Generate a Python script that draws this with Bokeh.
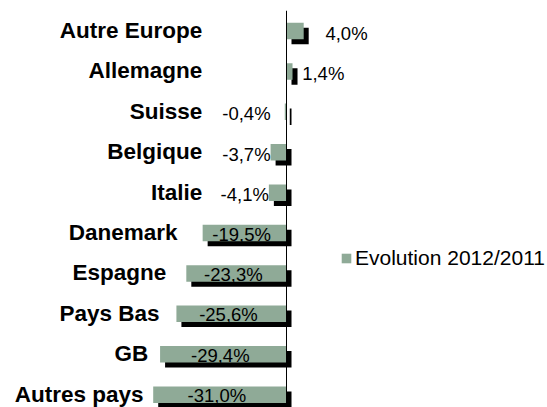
from bokeh.plotting import figure
from bokeh.models import Range1d, Span, Legend, LegendItem, ColumnDataSource
from bokeh.core.properties import value
from bokeh.embed import file_html
from bokeh.resources import INLINE

# ---- data ----
categories = ["Autre Europe", "Allemagne", "Suisse", "Belgique", "Italie",
              "Danemark", "Espagne", "Pays Bas", "GB", "Autres pays"]
evolution = [4.0, 1.4, -0.4, -3.7, -4.1, -19.5, -23.3, -25.6, -29.4, -31.0]
series_name = "Evolution 2012/2011"

# ---- layout parameters ----
W, H = 547, 407
PX_PER_UNIT = 4.3          # px per percentage point
ZERO_PX = 286              # x pixel of value 0
ROW0_PX, ROW_STEP = 30.5, 40.41
TOP_BORDER = 10
GREEN = "#8FAA97"
FONT = "Liberation Sans"

x_start = -ZERO_PX / PX_PER_UNIT
x_end = (W - ZERO_PX) / PX_PER_UNIT
y_top = (TOP_BORDER - ROW0_PX) / ROW_STEP
y_bottom = (H - ROW0_PX) / ROW_STEP

bar_h = 16.5 / ROW_STEP
sh_dx = 5 / PX_PER_UNIT
sh_dy = 5 / ROW_STEP

idx = list(range(len(categories)))
labels = [f"{v:.1f}".replace(".", ",") + "%" for v in evolution]

src = ColumnDataSource(dict(
    y=idx,
    v=evolution,
    zero=[0.0] * len(idx),
    sy=[i + sh_dy for i in idx],
    sv=[v + sh_dx for v in evolution],
    szero=[sh_dx] * len(idx),
))

p = figure(width=W, height=H,
           x_range=Range1d(x_start, x_end),
           y_range=Range1d(y_bottom, y_top),
           x_axis_type=None, y_axis_type=None,
           min_border_left=0, min_border_right=0,
           min_border_top=TOP_BORDER, min_border_bottom=0,
           outline_line_color=None, toolbar_location=None,
           output_backend="svg")
p.xgrid.visible = False
p.ygrid.visible = False

# shadow bars
p.hbar(y="sy", left="szero", right="sv", height=bar_h, source=src,
       fill_color="black", line_color=None)
# main bars
main = p.hbar(y="y", left="zero", right="v", height=bar_h, source=src,
              fill_color=GREEN, line_color=None)

# vertical axis line at 0
p.add_layout(Span(location=0, dimension="height", line_color="black", line_width=1))

# category labels (placed left of bars)
cat_x = [min(-19.6, 0.688 * v - 11.93) for v in evolution]
p.text(x=cat_x, y=idx, text=categories, text_align="right", text_baseline="middle",
       text_font=value(FONT), text_font_style="bold", text_font_size="22.5px",
       text_color="black", y_offset=-0.5)

# data labels
pos_x, pos_y, pos_t = [], [], []
sneg_x, sneg_y, sneg_t = [], [], []
in_x, in_y, in_t = [], [], []
for i, v, t in zip(idx, evolution, labels):
    if v >= 0:
        pos_x.append(2.08 * v + 0.73); pos_y.append(i); pos_t.append(t)
    elif v > -10:
        sneg_x.append(min(v, -3.7)); sneg_y.append(i); sneg_t.append(t)
    else:
        in_x.append(v / 2); in_y.append(i); in_t.append(t)

common = dict(text_font=value(FONT), text_font_size="18.5px", text_color="black",
              text_baseline="middle")
p.text(x=pos_x, y=pos_y, text=pos_t, text_align="left", y_offset=2, **common)
p.text(x=sneg_x, y=sneg_y, text=sneg_t, text_align="right", y_offset=2, **common)
p.text(x=in_x, y=in_y, text=in_t, text_align="center", x_offset=-3, y_offset=1, **common)

legend = Legend(items=[LegendItem(label=series_name, renderers=[main])],
                location=(340, 137), orientation="vertical",
                glyph_width=12, glyph_height=12, label_standoff=3,
                padding=0, margin=0, spacing=0,
                border_line_color=None, background_fill_alpha=0,
                label_text_font=FONT, label_text_font_size="21px",
                label_text_color="black")
p.add_layout(legend, "center")

open("out.html", "w").write(file_html(p, INLINE))
